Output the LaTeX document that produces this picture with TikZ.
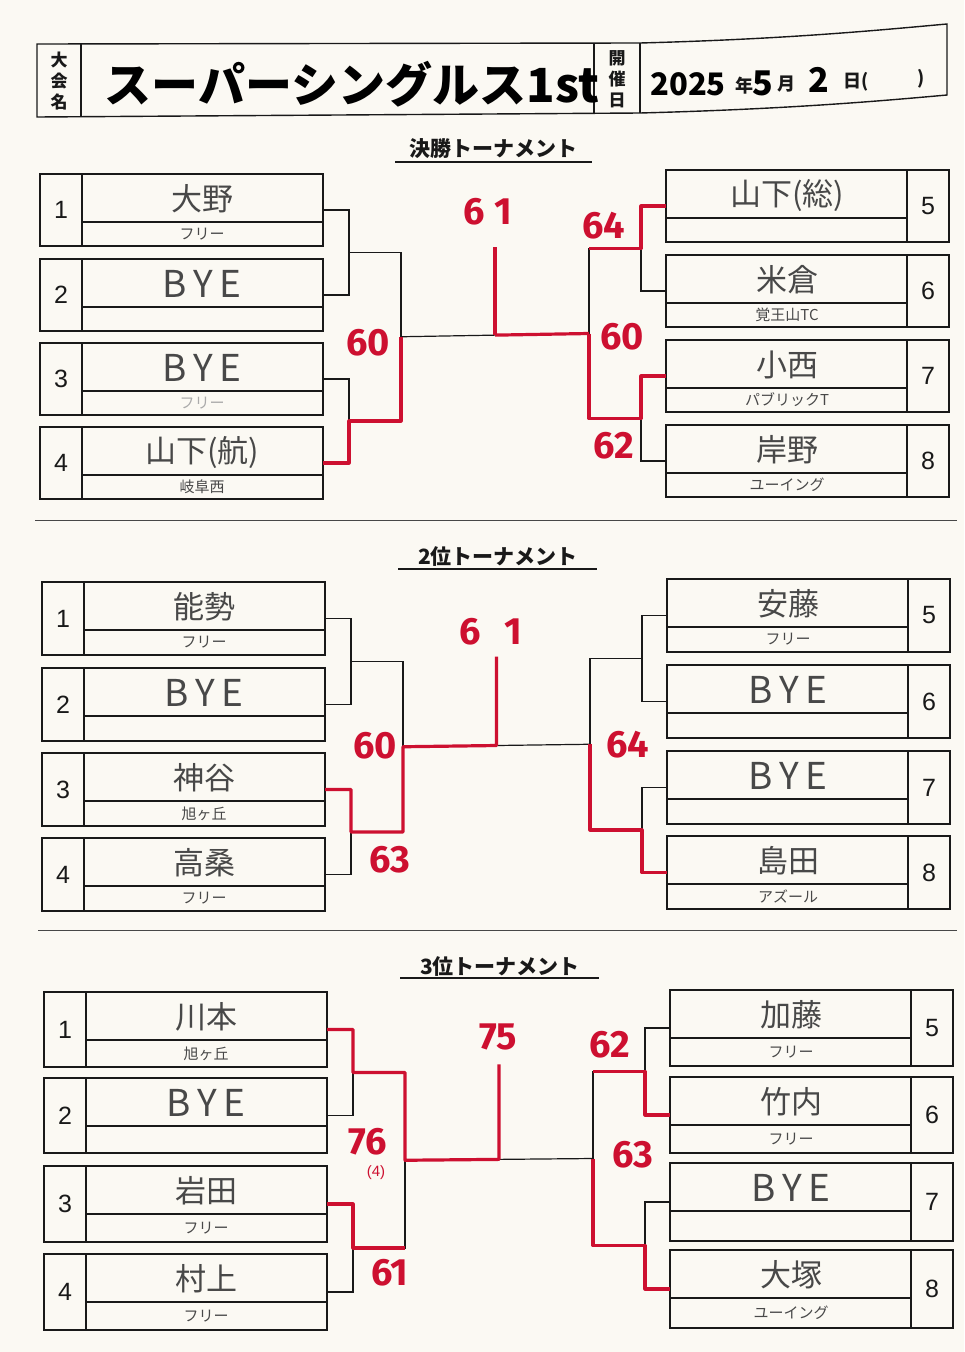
\documentclass[tikz,border=0pt]{standalone}
\usepackage{fontspec}
\setmainfont{Liberation Sans}
\newfontfamily\jp{Noto Sans CJK JP}
\newfontfamily\scf{Fira Sans}
\usetikzlibrary{calc}
\definecolor{paper}{RGB}{251,249,243}
\definecolor{pencil}{RGB}{72,72,72}
\definecolor{faint}{RGB}{170,170,170}
\definecolor{marker}{RGB}{205,16,48}
\definecolor{ink}{RGB}{25,25,25}
\tikzset{
  entrybox/.style={draw=ink, line width=1.4pt, inner sep=0pt, outer sep=0pt, minimum width=283pt},
  box/.style={draw=ink, line width=1.4pt},
  wire/.style={draw=ink, line width=1.2pt},
  win/.style={draw=marker, line width=3.2pt, line join=round},
  numtxt/.style={font=\fontsize{25}{25}\selectfont, text=ink},
  nametxt/.style={font=\jp\fontsize{31}{31}\selectfont, text=pencil},
  subtxt/.style={font=\jp\fontsize{15}{15}\selectfont, text=pencil},
  score/.style={font=\scf\bfseries\fontsize{38}{38}\selectfont, text=marker},
  sectitle/.style={font=\jp\bfseries\fontsize{21}{21}\selectfont, text=ink},
  hdrlbl/.style={font=\jp\bfseries\fontsize{17}{21}\selectfont, text=ink, align=center},
  datebig/.style={font=\jp\bfseries\fontsize{34}{34}\selectfont, text=black, inner sep=1pt},
  datesmall/.style={font=\jp\bfseries\fontsize{18}{18}\selectfont, text=ink, inner sep=1pt},
  sepline/.style={draw=ink!80, line width=1pt}
}
\newcommand\byetext{{\fontsize{37}{37}\selectfont B\,Y\,E}}
% left entry: id, x, y, height, number, name, club
\newcommand\Lentry[7]{%
  \node[entrybox, minimum height=#4pt, anchor=north west] (#1) at (#2,#3) {};
  \draw[box] ($(#1.north west)+(42,0)$) -- ($(#1.south west)+(42,0)$);
  \draw[box] ($(#1.north west)+(42,48)$) -- ($(#1.north east)+(0,48)$);
  \node[numtxt] (#1n) at ($(#1.north west)+(21,{0.5*#4})$) {#5};
  \node[nametxt] (#1m) at ($(#1.north west)+(162,25)$) {#6};
  \node[subtxt] (#1s) at ($(#1.north west)+(162,{0.5*(48+#4)})$) {#7};
}
% right entry: id, x, y, height, number, name, club
\newcommand\Rentry[7]{%
  \node[entrybox, minimum height=#4pt, anchor=north west] (#1) at (#2,#3) {};
  \draw[box] ($(#1.north east)+(-42,0)$) -- ($(#1.south east)+(-42,0)$);
  \draw[box] ($(#1.north west)+(0,48)$) -- ($(#1.north east)+(-42,48)$);
  \node[numtxt] (#1n) at ($(#1.north east)+(-21,{0.5*#4})$) {#5};
  \node[nametxt] (#1m) at ($(#1.north west)+(121,25)$) {#6};
  \node[subtxt] (#1s) at ($(#1.north west)+(121,{0.5*(48+#4)})$) {#7};
}
% bracket coordinates and black lines for one section: prefix
\newcommand\brackets[1]{%
  \coordinate (#1La) at ($($(#1L1.east)!.5!(#1L2.east)$)+(26,0)$);
  \coordinate (#1Lb) at ($($(#1L3.east)!.5!(#1L4.east)$)+(26,0)$);
  \coordinate (#1Ls) at ($($(#1La)!.5!(#1Lb)$)+(52,0)$);
  \coordinate (#1Ra) at ($($(#1R1.west)!.5!(#1R2.west)$)+(-25,0)$);
  \coordinate (#1Rb) at ($($(#1R3.west)!.5!(#1R4.west)$)+(-25,0)$);
  \coordinate (#1Rs) at ($($(#1Ra)!.5!(#1Rb)$)+(-52,0)$);
  \coordinate (#1C) at ($(#1Ls)!.5!(#1Rs)$);
  \draw[wire] (#1L1.east) -| (#1La) |- (#1L2.east);
  \draw[wire] (#1L3.east) -| (#1Lb) |- (#1L4.east);
  \draw[wire] (#1La) -| (#1Ls) |- (#1Lb);
  \draw[wire] (#1R1.west) -| (#1Ra) |- (#1R2.west);
  \draw[wire] (#1R3.west) -| (#1Rb) |- (#1R4.west);
  \draw[wire] (#1Ra) -| (#1Rs) |- (#1Rb);
  \draw[wire] (#1Ls) -- (#1C) -- (#1Rs);
}
\begin{document}
\begin{tikzpicture}[x=1pt,y=-1pt]
\useasboundingbox (0,0) rectangle (964,1352);
\fill[paper] (0,0) rectangle (964,1352);

% ---------- header ----------
\draw[box] (37,44) -- (640,43) .. controls (790,39) and (880,30) .. (947,24) -- (947,95)
  .. controls (880,101) and (790,109) .. (640,113) -- (37,117) -- cycle;
\draw[box] (81,44) -- (81,117);
\draw[box] (594,43) -- (594,114);
\draw[box] (640,43) -- (640,113);
\node[hdrlbl] (lblname) at (59,81) {大\\会\\名};
\node[hdrlbl] (lbldate) at (617,79) {開\\催\\日};
\node[font=\jp\bfseries\fontsize{47}{47}\selectfont, text=black] (title) at (352,84) {スーパーシングルス1st};
\node[font=\jp\bfseries\fontsize{31}{31}\selectfont, text=black, inner sep=1pt] (dyear) at (688,84) {2025};
\node[datesmall] (dnen) at (744,86) {年};
\node[datebig] (dmon) at (763,83) {5};
\node[datesmall] (dtsuki) at (786,84) {月};
\node[datebig] (dday) at (819,80) {2};
\node[datesmall] (dhi) at (856,82) {日(};
\node[datesmall] (dclose) at (921,79) {)};

% ---------- section titles ----------
\node[sectitle] (sec1) at (493,149) {決勝トーナメント};
\draw[line width=1.4pt, ink] (395,162) -- (592,162);
\node[sectitle] (sec2) at (498,557) {2位トーナメント};
\draw[line width=1.4pt, ink] (398,569) -- (597,569);
\node[sectitle] (sec3) at (500,966) {3位トーナメント};
\draw[line width=1.4pt, ink] (400,978) -- (599,978);

\draw[sepline] (35,520) -- (957,520);
\draw[sepline] (38,930) -- (957,930);

% ---------- 決勝トーナメント ----------
\Lentry{TL1}{40}{174}{72}{1}{大野}{フリー}
\Lentry{TL2}{40}{259}{72}{2}{\byetext}{}
\Lentry{TL3}{40}{343}{72}{3}{\byetext}{\textcolor{faint}{フリー}}
\Lentry{TL4}{40}{427}{72}{4}{山下(航)}{岐阜西}
\Rentry{TR1}{666}{170}{72}{5}{山下(総)}{}
\Rentry{TR2}{666}{255}{72}{6}{米倉}{覚王山TC}
\Rentry{TR3}{666}{340}{72}{7}{小西}{パブリックT}
\Rentry{TR4}{666}{425}{72}{8}{岸野}{ユーイング}
\brackets{T}
\draw[win] (TL4.east) -| (TLb) -| (TLs);
\draw[win] (TC) -- ++(0,-88);
\draw[win] (TC) -- (TRs);
\draw[win] (TR1.west) -| (TRa) -- (TRa -| TRs);
\draw[win] (TRs) |- (TRb) |- (TR3.west);
\node[score] (t61) at (488,212) {6\hspace{10pt}1};
\node[score] (t60a) at (368,343) {60};
\node[score] (t64) at (604,226) {64};
\node[score] (t60b) at (622,337) {60};
\node[score] (t62) at (614,446) {62};

% ---------- 2位トーナメント ----------
\Lentry{ML1}{42}{582}{73}{1}{能勢}{フリー}
\Lentry{ML2}{42}{668}{73}{2}{\byetext}{}
\Lentry{ML3}{42}{753}{73}{3}{神谷}{旭ヶ丘}
\Lentry{ML4}{42}{838}{73}{4}{高桑}{フリー}
\Rentry{MR1}{667}{579}{73}{5}{安藤}{フリー}
\Rentry{MR2}{667}{665}{73}{6}{\byetext}{}
\Rentry{MR3}{667}{751}{73}{7}{\byetext}{}
\Rentry{MR4}{667}{836}{73}{8}{島田}{アズール}
\brackets{M}
\draw[win] (ML3.east) -| (MLb) -| (MLs) -- (MC) -- ++(0,-89);
\draw[win] (MRs) |- (MRb) |- (MR4.west);
\node[score] (m61) at (491,632) {6\hspace{24pt}1};
\node[score] (m60) at (375,746) {60};
\node[score] (m63) at (390,860) {63};
\node[score] (m64) at (628,745) {64};

% ---------- 3位トーナメント ----------
\Lentry{BL1}{44}{992}{75}{1}{川本}{旭ヶ丘}
\Lentry{BL2}{44}{1078}{75}{2}{\byetext}{}
\Lentry{BL3}{44}{1166}{76}{3}{岩田}{フリー}
\Lentry{BL4}{44}{1254}{76}{4}{村上}{フリー}
\Rentry{BR1}{670}{990}{76}{5}{加藤}{フリー}
\Rentry{BR2}{670}{1077}{76}{6}{竹内}{フリー}
\Rentry{BR3}{670}{1163}{78}{7}{\byetext}{}
\Rentry{BR4}{670}{1250}{78}{8}{大塚}{ユーイング}
\brackets{B}
\draw[win] (BL1.east) -| (BLa) -| (BLs) -- (BC) -- ++(0,-95);
\draw[win] (BL3.east) -| (BLb) -- (BLb -| BLs);
\draw[win] (BR2.west) -| (BRa) -- (BRa -| BRs);
\draw[win] (BRs) |- (BRb) |- (BR4.west);
\node[score] (b75) at (498,1037) {75};
\node[score] (b76) at (368,1142) {76};
\node[font=\fontsize{15}{15}\selectfont, text=marker] (b4) at (376,1173) {(4)};
\node[score] (b61) at (390,1273) {61};
\node[score] (b62) at (610,1045) {62};
\node[score] (b63) at (633,1155) {63};
\end{tikzpicture}
\end{document}
